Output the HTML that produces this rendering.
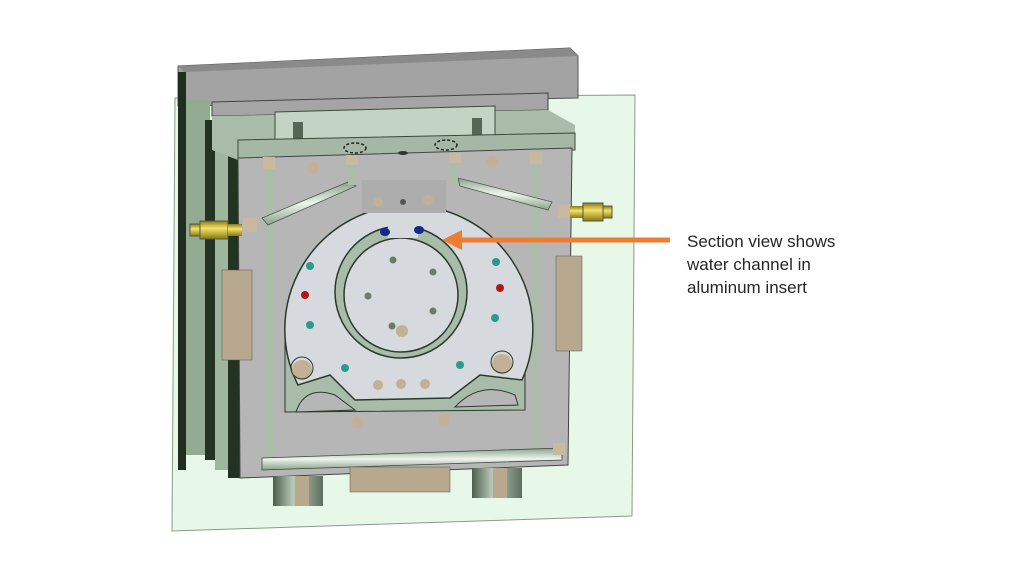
<!DOCTYPE html>
<html><head><meta charset="utf-8"><style>
html,body{margin:0;padding:0;background:#fff;width:1024px;height:576px;overflow:hidden}
svg{position:absolute;left:0;top:0}
.t{font-family:"Liberation Sans",sans-serif;font-size:17px;fill:#262626}
</style></head><body>
<svg width="1024" height="576" viewBox="0 0 1024 576">
<defs>
<linearGradient id="cyl" x1="0" x2="1"><stop offset="0" stop-color="#4d5e4d"/><stop offset="0.4" stop-color="#b9c9b9"/><stop offset="1" stop-color="#5e6f5e"/></linearGradient>
<linearGradient id="pipe" x1="0" y1="0" x2="0" y2="1"><stop offset="0" stop-color="#8aa08a"/><stop offset="0.5" stop-color="#eef5ee"/><stop offset="1" stop-color="#8aa08a"/></linearGradient>
<linearGradient id="gold" x1="0" y1="0" x2="0" y2="1"><stop offset="0" stop-color="#8a7a10"/><stop offset="0.4" stop-color="#f3e36a"/><stop offset="1" stop-color="#8a7a10"/></linearGradient>
</defs>
<polygon points="175,98 635,95 632,516 172,531" fill="#e8f8e8" stroke="#8a9a8a" stroke-width="1"/>
<polygon points="178,66 570,48 578,56 578,98 178,106" fill="#a3a3a3" stroke="#555" stroke-width="1"/>
<polygon points="178,66 570,48 578,56 184,72" fill="#8a8a8a"/>
<polygon points="178,72 186,72 186,470 178,470" fill="#1f2e1f"/>
<polygon points="186,100 210,100 210,455 186,455" fill="#93aa93"/>
<polygon points="205,120 220,120 220,460 205,460" fill="#223322"/>
<polygon points="215,125 235,125 235,470 215,470" fill="#9fb59f"/>
<polygon points="228,140 240,140 240,478 228,478" fill="#223322"/>
<polygon points="212,102 548,93 548,110 212,116" fill="#a5a5a5" stroke="#444" stroke-width="1"/>
<polygon points="212,116 548,110 575,125 575,150 238,160 212,150" fill="#a9bca9"/>
<polygon points="275,112 495,106 495,140 275,145" fill="#c4d4c4" stroke="#3a4a3a" stroke-width="1"/>
<rect x="293" y="122" width="10" height="18" fill="#556655"/>
<rect x="472" y="118" width="10" height="18" fill="#556655"/>
<polygon points="238,140 575,133 575,150 238,160" fill="#a5b8a5" stroke="#3a4a3a" stroke-width="1"/>
<polygon points="238,158 572,148 568,465 240,478" fill="#b6b6b6" stroke="#444" stroke-width="1"/>
<rect x="265" y="170" width="8" height="290" fill="#a9bda9"/>
<rect x="532" y="165" width="8" height="290" fill="#a9bda9"/>
<rect x="263" y="157" width="12" height="12" fill="#c9b99f"/>
<rect x="530" y="152" width="12" height="12" fill="#c9b99f"/>
<rect x="222" y="270" width="30" height="90" fill="#b7a88e" stroke="#555" stroke-width="0.5"/>
<rect x="556" y="256" width="26" height="95" fill="#b7a88e" stroke="#555" stroke-width="0.5"/>
<polygon points="362,182 445,180 445,212 362,214" fill="#a9a9a9"/>
<path d="M285,340 L525,335 L525,410 L285,412 Z" fill="#a9bca9" stroke="#2a3a2a" stroke-width="1"/>
<path d="M298,385 A124,124 0 1 1 522,380 L480,375 L450,398 L355,400 L330,375 Z" fill="#d6d9dd" stroke="#2a3a2a" stroke-width="1.5"/>
<path d="M296,412 Q305,385 335,395 L355,410 Z" fill="#b6b6b6" stroke="#2a3a2a"/>
<path d="M455,407 Q480,380 515,395 L518,405 Z" fill="#b6b6b6" stroke="#2a3a2a"/>
<circle cx="401" cy="292" r="66" fill="#a9bca9" stroke="#2a3a2a" stroke-width="1.5"/>
<circle cx="401" cy="295" r="57" fill="#d6d9dd" stroke="#2a3a2a" stroke-width="1.5"/>
<rect x="388" y="214" width="30" height="24" fill="#d6d9dd"/>
<rect x="362" y="180" width="84" height="33" fill="#adadad"/>
<ellipse cx="385" cy="232" rx="5" ry="4" fill="#102a90"/>
<ellipse cx="419" cy="230" rx="5" ry="4" fill="#102a90"/>
<g fill="#2a9a8a"><circle cx="310" cy="266" r="4"/><circle cx="310" cy="325" r="4"/><circle cx="496" cy="262" r="4"/><circle cx="495" cy="318" r="4"/><circle cx="345" cy="368" r="4"/><circle cx="460" cy="365" r="4"/></g>
<g fill="#b01818"><circle cx="305" cy="295" r="4"/><circle cx="500" cy="288" r="4"/></g>
<g fill="#6b7a6b"><circle cx="393" cy="260" r="3.5"/><circle cx="433" cy="272" r="3.5"/><circle cx="368" cy="296" r="3.5"/><circle cx="433" cy="311" r="3.5"/><circle cx="392" cy="326" r="3.5"/></g>
<g fill="#c2b196"><circle cx="402" cy="331" r="6"/><circle cx="378" cy="385" r="5"/><circle cx="401" cy="384" r="5"/><circle cx="425" cy="384" r="5"/><circle cx="357" cy="422" r="6"/><circle cx="444" cy="419" r="6"/><circle cx="313" cy="168" r="6"/><circle cx="492" cy="162" r="6"/><circle cx="378" cy="202" r="5"/><circle cx="428" cy="200" r="5"/><circle cx="302" cy="370" r="10"/><circle cx="502" cy="364" r="10"/></g>
<circle cx="302" cy="368" r="11" fill="none" stroke="#2a3a2a"/><circle cx="502" cy="362" r="11" fill="none" stroke="#2a3a2a"/>
<circle cx="403" cy="202" r="3" fill="#555"/>
<ellipse cx="355" cy="148" rx="11" ry="5" fill="none" stroke="#222" stroke-dasharray="3,2" stroke-width="1.5"/>
<ellipse cx="446" cy="145" rx="11" ry="5" fill="none" stroke="#222" stroke-dasharray="3,2" stroke-width="1.5"/>
<ellipse cx="403" cy="153" rx="5" ry="2" fill="#333"/>
<polygon points="348,182 356,186 268,225 262,218" fill="url(#pipe)" stroke="#4a5a4a" stroke-width="0.8"/>
<polygon points="458,178 460,186 548,210 552,202" fill="url(#pipe)" stroke="#4a5a4a" stroke-width="0.8"/>
<rect x="348" y="160" width="8" height="25" fill="#a9bda9"/>
<rect x="450" y="158" width="8" height="25" fill="#a9bda9"/>
<rect x="346" y="155" width="12" height="10" fill="#c9b99f"/>
<rect x="449" y="153" width="12" height="10" fill="#c9b99f"/>
<rect x="243" y="218" width="14" height="14" fill="#c9b99f"/>
<rect x="558" y="205" width="13" height="13" fill="#c9b99f"/>
<rect x="190" y="224" width="10" height="12" fill="url(#gold)" stroke="#554"/>
<rect x="200" y="221" width="28" height="18" fill="url(#gold)" stroke="#554"/>
<rect x="228" y="224" width="14" height="12" fill="url(#gold)"/>
<rect x="570" y="206" width="14" height="12" fill="url(#gold)"/>
<rect x="583" y="203" width="20" height="18" fill="url(#gold)" stroke="#554"/>
<rect x="603" y="206" width="9" height="12" fill="url(#gold)" stroke="#554"/>
<polygon points="262,458 562,448 562,460 262,470" fill="url(#pipe)" stroke="#3a4a3a" stroke-width="0.8"/>
<rect x="553" y="443" width="12" height="12" fill="#c9b99f"/>
<rect x="273" y="476" width="50" height="30" fill="url(#cyl)"/>
<rect x="295" y="476" width="14" height="30" fill="#b7a88e"/>
<rect x="472" y="468" width="50" height="30" fill="url(#cyl)"/>
<rect x="493" y="468" width="14" height="30" fill="#b7a88e"/>
<rect x="350" y="467" width="100" height="25" fill="#b7a88e" stroke="#555" stroke-width="0.5"/>
<line x1="670" y1="240" x2="458" y2="240" stroke="#ed7d31" stroke-width="5"/>
<polygon points="442,240 462,230 462,250" fill="#ed7d31"/>
<text class="t" x="687" y="247">Section view shows</text>
<text class="t" x="687" y="270">water channel in</text>
<text class="t" x="687" y="293">aluminum insert</text>
</svg>
</body></html>
